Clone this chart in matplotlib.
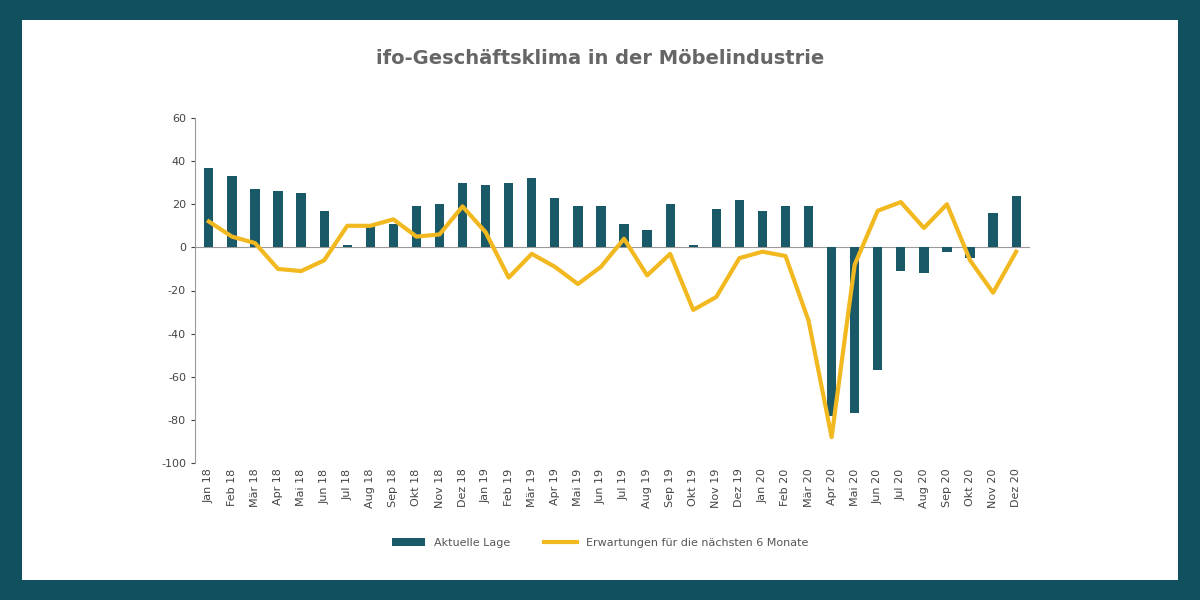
import matplotlib
matplotlib.use("Agg")
import matplotlib.pyplot as plt
from matplotlib.patches import Rectangle

plt.rcParams["axes.unicode_minus"] = False

months = ["Jan 18","Feb 18","Mär 18","Apr 18","Mai 18","Jun 18","Jul 18","Aug 18","Sep 18","Okt 18","Nov 18","Dez 18",
          "Jan 19","Feb 19","Mär 19","Apr 19","Mai 19","Jun 19","Jul 19","Aug 19","Sep 19","Okt 19","Nov 19","Dez 19",
          "Jan 20","Feb 20","Mär 20","Apr 20","Mai 20","Jun 20","Jul 20","Aug 20","Sep 20","Okt 20","Nov 20","Dez 20"]
lage = [37,33,27,26,25,17,1,10,11,19,20,30, 29,30,32,23,19,19,11,8,20,1,18,22, 17,19,19,-78,-77,-57,-11,-12,-2,-5,16,24]
erwartung = [12,5,2,-10,-11,-6,10,10,13,5,6,19, 7,-14,-3,-9,-17,-9,4,-13,-3,-29,-23,-5, -2,-4,-34,-88,-8,17,21,9,20,-6,-21,-2]

fig = plt.figure(figsize=(12, 6), dpi=100)
fig.patch.set_facecolor("#11505f")
fig.add_artist(Rectangle((22/1200, 20/600), 1156/1200, 560/600, transform=fig.transFigure,
                         facecolor="white", edgecolor="none", zorder=0))
ax = fig.add_axes([195/1200, 1-463/600, 835/1200, 345/600])
ax.set_facecolor("white")
x = range(len(months))
bars = ax.bar(x, lage, width=0.4, color="#1a5a68", label="Aktuelle Lage", zorder=2)
line, = ax.plot(x, erwartung, color="#f2b81f", lw=3, label="Erwartungen für die nächsten 6 Monate", zorder=3)
ax.set_ylim(-100, 60)
ax.set_yticks(range(-100, 61, 20))
ax.set_xlim(-0.6, len(months) - 0.4)
ax.set_xticks(list(x))
ax.set_xticklabels(months, rotation=90, fontsize=8, color="#444444")
ax.tick_params(axis="y", labelsize=8, colors="#444444", length=3)
ax.tick_params(axis="x", length=0, pad=4)
for s in ["top", "right", "bottom"]:
    ax.spines[s].set_visible(False)
ax.spines["left"].set_color("#999999")
ax.axhline(0, color="#999999", lw=0.8, zorder=1)
fig.text(0.5, 1-58/600, "ifo-Geschäftsklima in der Möbelindustrie", ha="center", va="center",
         fontsize=14, fontweight="bold", color="#666666")
fig.legend(handles=[bars, line], loc="center", bbox_to_anchor=(0.5, 1-543/600), ncol=2, frameon=False, fontsize=8,
           labelcolor="#555555", handlelength=3, columnspacing=3)
fig.savefig("out.png", dpi=100, facecolor=fig.get_facecolor())
